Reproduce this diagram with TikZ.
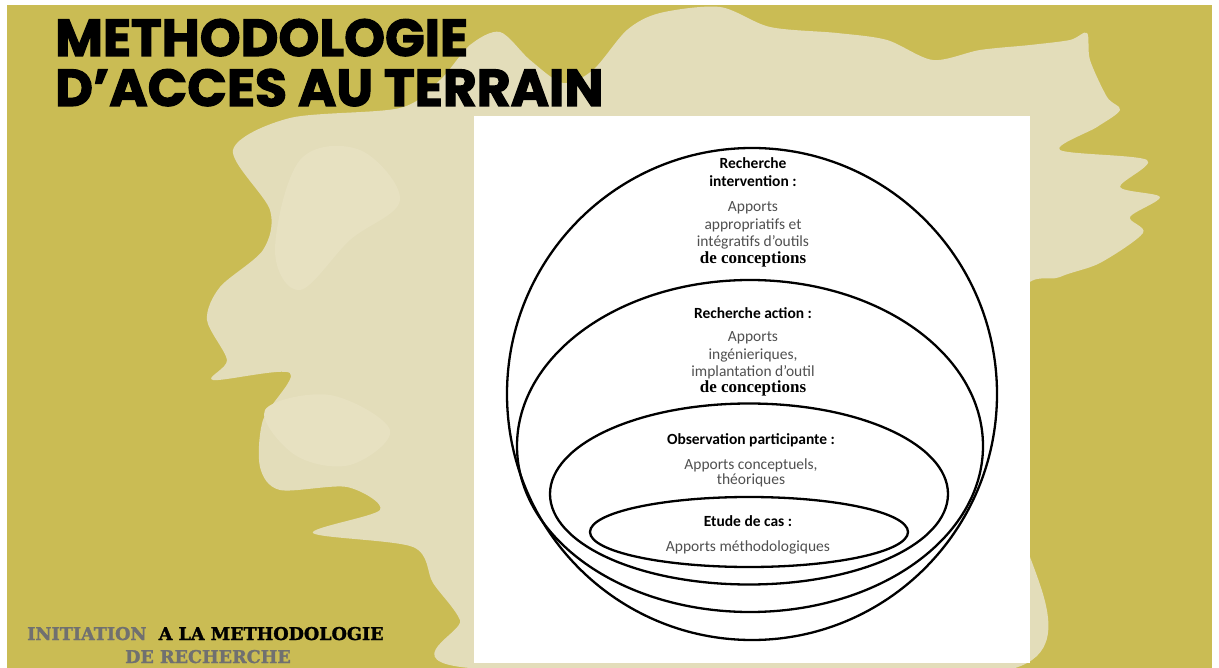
\documentclass[tikz,border=0pt]{standalone}
\usepackage{fontspec}
\setmainfont{Carlito}
\newfontfamily\titlefont{Poppins}[FakeBold=2.2]
\newfontfamily\footfont{DejaVu Serif}[FakeBold=1.6]
\newfontfamily\concfont{Liberation Serif}
\usetikzlibrary{shapes.geometric,positioning}

\definecolor{olivebg}{RGB}{202,188,84}
\definecolor{splashcol}{RGB}{227,221,186}
\definecolor{splashlight}{RGB}{231,225,193}
\definecolor{bodygray}{RGB}{80,80,80}
\definecolor{footgray}{RGB}{112,112,112}

\tikzset{
  ring/.style={draw, ellipse, line width=2.3pt, inner sep=0pt},
  heading/.style={font=\fontsize{15.5}{18}\selectfont\bfseries, align=center},
  bodytext/.style={font=\fontsize{15.5}{17.5}\selectfont, text=bodygray, align=center},
  concep/.style={font=\fontsize{17}{18}\selectfont\concfont\bfseries},
}

\begin{document}
\begin{tikzpicture}[x=1pt, y=-1pt, every node/.style={inner sep=0pt}]
\useasboundingbox (0,0) rectangle (1219,668);
\fill[white] (0,0) rectangle (1219,668);
\fill[olivebg] (7,5) rectangle (1212,668);

% background splash
\fill[splashcol] plot[smooth cycle, tension=0.5] coordinates {
  (290,118) (400,108) (440,80) (470,45) (500,32) (530,60) (563,83) (593,70)
  (627,30) (660,13) (720,7) (770,27) (837,33) (887,40) (933,60) (980,50)
  (1030,45) (1070,40) (1087,33) (1090,60) (1107,97) (1120,110) (1097,127)
  (1060,150) (1147,160) (1120,187) (1160,197) (1130,217) (1143,233) (1100,263)
  (1060,277) (1020,300) (1015,500) (1015,668) (470,668) (460,620) (433,583) (413,547)
  (313,533) (380,510) (347,487) (280,490) (260,467) (263,420) (290,373)
  (213,380) (227,360) (207,320) (220,287) (263,250) (270,210) (233,150)};
\fill[splashlight] plot[smooth cycle, tension=0.6] coordinates {
  (300,160) (360,150) (400,200) (350,240) (300,290) (275,250)};
\fill[splashlight] plot[smooth cycle, tension=0.6] coordinates {
  (265,410) (330,395) (390,430) (350,465) (295,455)};

% title
\node (title1) [anchor=base west, font=\titlefont\fontsize{52}{52}\selectfont\bfseries] at (55,56) {METHODOLOGIE};
\node (title2) [anchor=base west, font=\titlefont\fontsize{52}{52}\selectfont\bfseries] at (55,106) {D’ACCES AU TERRAIN};

% footer
\node (foot1) [anchor=base west, font=\footfont\fontsize{17.6}{17.6}\selectfont\bfseries] at (27,640)
  {\textcolor{footgray}{INITIATION}\ \ A LA METHODOLOGIE};
\node (foot2) [anchor=base west, font=\footfont\fontsize{17.6}{17.6}\selectfont\bfseries, text=footgray] at (125,663) {DE RECHERCHE};

% panel
\fill[white] (474,116) rectangle (1030,663);

% nested ellipses
\node (intervention) [ring, minimum width=490pt, minimum height=492pt] at (752,394) {};
\node (action) [ring, minimum width=466pt, minimum height=332pt] at (750,446) {};
\node (observation) [ring, minimum width=398pt, minimum height=181pt] at (749,494) {};
\node (etude) [ring, minimum width=318pt, minimum height=70pt] at (749,532) {};

% labels
\node (intHead) [heading, anchor=north] at (753,157) {Recherche\\intervention :};
\node (intBody) [bodytext, below=15pt of intHead] {Apports\\appropriatifs et\\intégratifs d'outils};
\node (intConc) [concep, below=2pt of intBody] {de conceptions};

\node (actHead) [heading, anchor=north] at (753,307) {Recherche action :};
\node (actBody) [bodytext, below=13pt of actHead] {Apports\\ingénieriques,\\implantation d'outil};
\node (actConc) [concep, below=1pt of actBody] {de conceptions};

\node (obsHead) [heading, anchor=north] at (751,433) {Observation participante :};
\node (obsBody) [bodytext, below=12pt of obsHead, font=\fontsize{15.5}{15}\selectfont] {Apports conceptuels,\\théoriques};

\node (etuHead) [heading, anchor=north] at (748,515) {Etude de cas :};
\node (etuBody) [bodytext, below=14pt of etuHead] {Apports méthodologiques};
\end{tikzpicture}
\end{document}
